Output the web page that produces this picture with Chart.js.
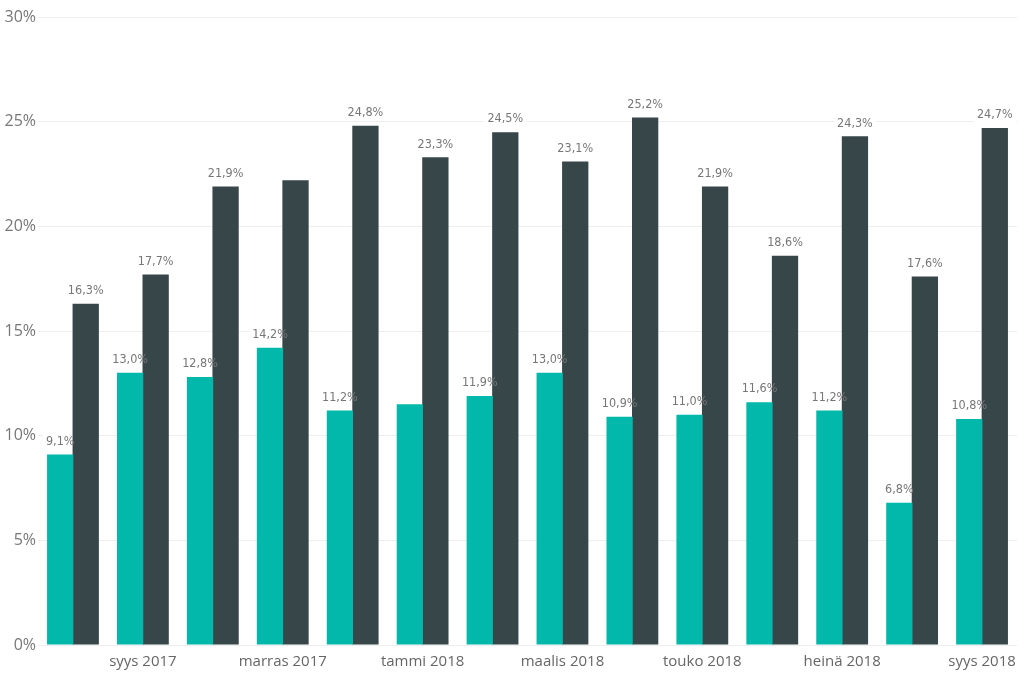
<!DOCTYPE html>
<html>
<head>
<meta charset="utf-8">
<script src="https://cdn.jsdelivr.net/npm/chart.js@4"></script>
<style>
  html, body { margin: 0; padding: 0; background: #fff; }
  #wrap { width: 1024px; height: 673px; }
</style>
</head>
<body>
<div id="wrap"><canvas id="chart"></canvas></div>
<script>
const months = ['elo 2017', 'syys 2017', 'loka 2017', 'marras 2017', 'joulu 2017', 'tammi 2018', 'helmi 2018',
  'maalis 2018', 'huhti 2018', 'touko 2018', 'kesä 2018', 'heinä 2018', 'elo 2018', 'syys 2018'];
const tealValues = [9.1, 13.0, 12.8, 14.2, 11.2, 11.5, 11.9, 13.0, 10.9, 11.0, 11.6, 11.2, 6.8, 10.8];
const darkValues = [16.3, 17.7, 21.9, 22.2, 24.8, 23.3, 24.5, 23.1, 25.2, 21.9, 18.6, 24.3, 17.6, 24.7];
const yTicks = [0, 5, 10, 15, 20, 25, 30];
// labels the original leaves out (overlap): [dataset, index]
const hiddenLabels = [[0, 5], [1, 3]];

const fmt = v => v.toFixed(1).replace('.', ',') + '%';
const labelFont = '12.5px "DejaVu Sans Condensed", "DejaVu Sans", sans-serif';

function eachLabel(chart, fn) {
  chart.data.datasets.forEach((ds, di) => {
    chart.getDatasetMeta(di).data.forEach((bar, i) => {
      if (hiddenLabels.some(h => h[0] === di && h[1] === i)) return;
      fn(fmt(ds.data[i]), bar.x, bar.y - 13);
    });
  });
}

const valueLabels = {
  id: 'valueLabels',
  // white patch hides the gridline behind a label, but not the bars
  beforeDatasetsDraw(chart) {
    const ctx = chart.ctx;
    ctx.save();
    ctx.font = labelFont;
    ctx.fillStyle = '#fff';
    eachLabel(chart, (txt, x, y) => {
      const w = ctx.measureText(txt).width;
      ctx.fillRect(x - w / 2 - 3, y - 7, w + 6, 14);
    });
    ctx.restore();
  },
  afterDatasetsDraw(chart) {
    const ctx = chart.ctx;
    ctx.save();
    ctx.font = labelFont;
    ctx.textAlign = 'center';
    ctx.textBaseline = 'middle';
    ctx.fillStyle = '#777';
    eachLabel(chart, (txt, x, y) => ctx.fillText(txt, x, y));
    ctx.restore();
  }
};

new Chart(document.getElementById('chart'), {
  type: 'bar',
  data: {
    labels: months,
    datasets: [
      { data: tealValues, backgroundColor: '#01B8AA', categoryPercentage: 0.73, barPercentage: 1.03 },
      { data: darkValues, backgroundColor: '#374649', categoryPercentage: 0.73, barPercentage: 1.03 }
    ]
  },
  options: {
    responsive: true,
    maintainAspectRatio: false,
    animation: false,
    layout: { padding: { top: 17, right: 7, left: 0, bottom: 0 } },
    plugins: { legend: { display: false }, tooltip: { enabled: false } },
    scales: {
      x: {
        grid: { display: false },
        border: { display: false },
        afterFit(scale) { scale.height = 28; },
        ticks: {
          autoSkip: false,
          maxRotation: 0,
          padding: 0,
          color: '#666',
          font: { family: '"Open Sans", "Noto Sans", sans-serif', size: 15 },
          callback: (v, i) => (i % 2 === 1 ? months[i] : '')
        }
      },
      y: {
        min: 0,
        max: 30,
        afterFit(scale) { scale.width = 38; },
        afterBuildTicks(scale) { scale.ticks = yTicks.map(v => ({ value: v })); },
        border: { display: false },
        grid: { color: '#eeeeee', lineWidth: 1, drawTicks: false },
        ticks: {
          padding: 2,
          color: '#777',
          font: { family: '"Open Sans", "Noto Sans", sans-serif', size: 16 },
          callback: v => v + '%'
        }
      }
    }
  },
  plugins: [valueLabels]
});
</script>
</body>
</html>
